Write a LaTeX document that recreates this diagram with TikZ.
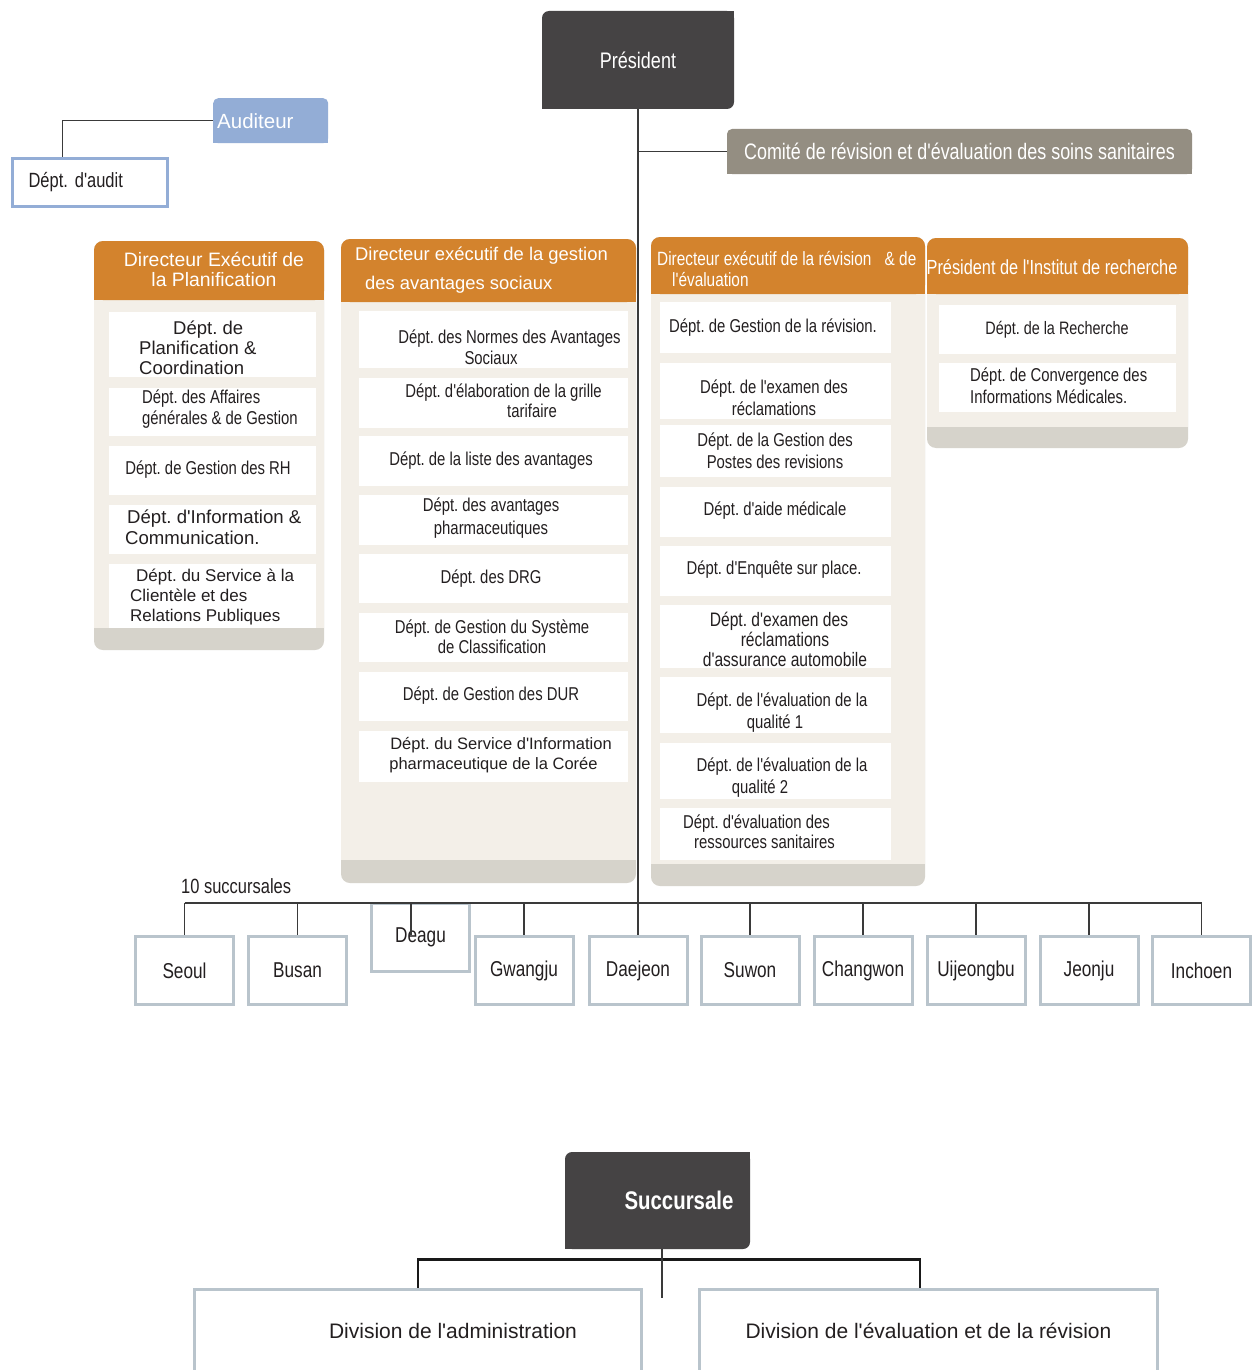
\documentclass[tikz,border=0pt]{standalone}
\usepackage{fontspec}
\setmainfont{Liberation Sans}
\newfontfamily\reg{Liberation Sans}
\newfontfamily\nar{Liberation Sans}[FakeStretch=0.8]
\usetikzlibrary{calc}
\frenchspacing

\definecolor{darkbox}{HTML}{454344}
\definecolor{audblue}{HTML}{93ADD6}
\definecolor{comgray}{HTML}{948E82}
\definecolor{hdorange}{HTML}{D3832D}
\definecolor{panelbody}{HTML}{F3EFE8}
\definecolor{panelfoot}{HTML}{D6D3CB}
\definecolor{branchedge}{HTML}{B9C4CC}
\definecolor{inktext}{HTML}{231F20}
\definecolor{wire}{HTML}{3A3A3A}

\newcommand\fsz[2]{\fontsize{#1}{#2}\selectfont}

% white department box: name, x1, y1, x2, y2
\newcommand\deptbox[5]{%
  \pgfmathsetmacro\dbXc{(#2+#4)/2}%
  \pgfmathsetmacro\dbYc{(#3+#5)/2}%
  \pgfmathsetmacro\dbW{#4-#2}%
  \pgfmathsetmacro\dbH{#5-#3}%
  \node[deptbg, minimum width=\dbW pt, minimum height=\dbH pt] (#1) at (\dbXc,\dbYc) {};}

% column panel: x1, x2, top, header bottom, footer top, bottom
\newcommand\panel[6]{%
  \fill[panelfoot, rounded corners=9pt] (#1,#3) rectangle (#2,#6);
  \fill[panelbody] (#1,#4) rectangle (#2,#5);
  \fill[hdorange, rounded corners=9pt] (#1,#3) rectangle (#2,#4);
  \fill[hdorange] (#1,#4-14) rectangle (#2,#4);}

\tikzset{
  conn/.style={draw=wire, line width=1.2pt},
  thickbus/.style={draw=black!90, line width=2.4pt},
  deptbg/.style={fill=white, inner sep=0pt},
  dtxt/.style={text=inktext, inner sep=0pt, align=center},
  hdtxt/.style={text=white, inner sep=0pt},
  darkhead/.style={fill=darkbox, rounded corners=7pt, text=white, inner sep=0pt},
  branch/.style={draw=branchedge, line width=3pt, fill=white, minimum width=98pt,
    minimum height=68pt, inner sep=0pt, text=inktext, font=\nar\fsz{21.5}{24}},
  divbox/.style={draw=branchedge, line width=3pt, fill=white, inner sep=0pt,
    text=inktext, font=\reg\fsz{21}{24}},
}

\begin{document}
\begin{tikzpicture}[x=1pt, y=-1pt]
\useasboundingbox (0,0) rectangle (1253,1370);
\fill[white] (0,0) rectangle (1253,1370);

% ---- top: president, auditor, committee
\node[darkhead, minimum width=192pt, minimum height=98pt, font=\nar\fsz{22.5}{24}] (pres) at (638,60) {Président};
\fill[darkbox] (pres.north east) rectangle ([xshift=-9pt,yshift=-9pt]pres.north east);
\fill[darkbox] (pres.south west) rectangle ([xshift=9pt,yshift=9pt]pres.south west);

\node[fill=audblue, rounded corners=5pt, anchor=north west, minimum height=45pt,
  inner xsep=4pt, inner ysep=0pt, text width=107pt, align=left, text=white,
  font=\reg\fsz{20.5}{22}] (aud) at (213,98) {Auditeur};
\fill[audblue] (aud.south west) rectangle ([xshift=7pt,yshift=7pt]aud.south west);
\fill[audblue] (aud.south east) rectangle ([xshift=-7pt,yshift=7pt]aud.south east);

\node[draw=audblue, line width=3.2pt, fill=white, anchor=west, minimum height=48pt,
  inner xsep=16.5pt, inner ysep=0pt, text width=122pt, align=left, text=inktext,
  font=\nar\fsz{20.6}{22}] (audit) at (10.5,182.5) {Dépt. d'audit};

\draw[conn] (aud.west) -| ([xshift=-27pt]audit.north);

\node[fill=comgray, rounded corners=5pt, minimum width=465pt, minimum height=45pt,
  inner sep=0pt, text=white, font=\nar\fsz{22.4}{24}] (com) at (959.5,151.5)
  {Comité de révision et d'évaluation des soins sanitaires};
\fill[comgray] (com.south west) rectangle ([xshift=7pt,yshift=7pt]com.south west);
\fill[comgray] (com.south east) rectangle ([xshift=-7pt,yshift=7pt]com.south east);

% ---- column panels
\panel{94}{324}{241}{300}{628}{650}
\panel{341}{636}{239}{302}{860}{883}
\panel{651}{925}{237}{294}{864}{886}
\panel{927}{1188}{238}{294}{427}{448}

\node[hdtxt, align=center, font=\reg\fsz{19.4}{20}] (h1) at (214,269)
  {Directeur Exécutif de\\la Planification};
\node[hdtxt, anchor=west, align=left, font=\reg\fsz{18.4}{29}] (h2) at (355,270.5)
  {Directeur exécutif de la gestion\\\hspace*{10pt}des avantages sociaux};
\node[hdtxt, anchor=west, align=left, font=\nar\fsz{19.2}{21}] (h3) at (657,269.5)
  {Directeur exécutif de la révision\hspace{9pt} \& de\\\hspace*{15pt}l'évaluation};
\node[hdtxt, font=\nar\fsz{20.4}{22}] (h4) at (1052,267)
  {Président de l'Institut de recherche};

% ---- column 1
\deptbox{c1a}{109}{312}{316}{377}
\node[dtxt, anchor=west, align=left, font=\reg\fsz{18.5}{20}] (c1a-t) at (139,348)
  {\hspace*{34pt}Dépt. de\\Planification \&\\Coordination};
\deptbox{c1b}{109}{388}{316}{436}
\node[dtxt, anchor=west, align=left, font=\nar\fsz{18.6}{21}] (c1b-t) at (142,409.5)
  {Dépt. des Affaires\\générales \& de Gestion};
\deptbox{c1c}{109}{446}{316}{495}
\node[dtxt, font=\nar\fsz{18.6}{21}] (c1c-t) at (208,470) {Dépt. de Gestion des RH};
\deptbox{c1d}{109}{505}{316}{554}
\node[dtxt, anchor=west, align=left, font=\reg\fsz{18.6}{21}] (c1d-t) at (125,527.5)
  {\hspace*{2pt}Dépt. d'Information \&\\Communication.};
\deptbox{c1e}{109}{564}{316}{628}
\node[dtxt, anchor=west, align=left, font=\reg\fsz{17}{20}] (c1e-t) at (130,597)
  {\hspace*{6pt}Dépt. du Service à la\\Clientèle et des\\Relations Publiques};

% ---- column 2
\deptbox{c2a}{359}{311}{628}{368}
\node[dtxt, font=\nar\fsz{18.6}{21}] (c2a-t) at (509.5,347.5)
  {Dépt. des Normes des Avantages\\Sociaux\hspace{37pt}\mbox{}};
\deptbox{c2b}{359}{378}{628}{428}
\node[dtxt, font=\nar\fsz{18.6}{20}] (c2b-t) at (503.5,401)
  {Dépt. d'élaboration de la grille\\\hspace*{57pt}tarifaire};
\deptbox{c2c}{359}{436}{628}{486}
\node[dtxt, font=\nar\fsz{18.6}{21}] (c2c-t) at (491,461) {Dépt. de la liste des avantages};
\deptbox{c2d}{359}{495}{628}{545}
\node[dtxt, font=\nar\fsz{18.6}{23}] (c2d-t) at (491,518.5) {Dépt. des avantages\\pharmaceutiques};
\deptbox{c2e}{359}{554}{628}{603}
\node[dtxt, font=\nar\fsz{18.6}{21}] (c2e-t) at (491,579) {Dépt. des DRG};
\deptbox{c2f}{359}{613}{628}{662}
\node[dtxt, font=\nar\fsz{18.6}{20}] (c2f-t) at (492,637) {Dépt. de Gestion du Système\\de Classification};
\deptbox{c2g}{359}{672}{628}{721}
\node[dtxt, font=\nar\fsz{18.6}{21}] (c2g-t) at (491,696) {Dépt. de Gestion des DUR};
\deptbox{c2h}{359}{731}{628}{782}
\node[dtxt, font=\reg\fsz{16.5}{20}] (c2h-t) at (501,755)
  {Dépt. du Service d'Information\\pharmaceutique de la Corée\hspace{15pt}\mbox{}};

% ---- column 3
\deptbox{c3a}{660}{302}{891}{353}
\node[dtxt, font=\nar\fsz{18.6}{21}] (c3a-t) at (773,328) {Dépt. de Gestion de la révision.};
\deptbox{c3b}{660}{363}{891}{419}
\node[dtxt, font=\nar\fsz{18.6}{22}] (c3b-t) at (774,398) {Dépt. de l'examen des\\réclamations};
\deptbox{c3c}{660}{425}{891}{477}
\node[dtxt, font=\nar\fsz{18.6}{22}] (c3c-t) at (775,451) {Dépt. de la Gestion des\\Postes des revisions};
\deptbox{c3d}{660}{487}{891}{537}
\node[dtxt, font=\nar\fsz{18.6}{21}] (c3d-t) at (775,511) {Dépt. d'aide médicale};
\deptbox{c3e}{660}{546}{891}{596}
\node[dtxt, font=\nar\fsz{18.6}{21}] (c3e-t) at (774,570) {Dépt. d'Enquête sur place.};
\deptbox{c3f}{660}{605}{891}{668}
\node[dtxt, font=\nar\fsz{19.5}{20}] (c3f-t) at (785,639)
  {Dépt. d'examen des\hspace{12pt}\mbox{}\\réclamations\\d'assurance automobile};
\deptbox{c3g}{660}{677}{891}{733}
\node[dtxt, font=\nar\fsz{18.6}{22}] (c3g-t) at (782,713)
  {Dépt. de l'évaluation de la\\qualité 1\hspace{14pt}\mbox{}};
\deptbox{c3h}{660}{743}{891}{799}
\node[dtxt, font=\nar\fsz{18.6}{22}] (c3h-t) at (782,778)
  {Dépt. de l'évaluation de la\\qualité 2\hspace{44pt}\mbox{}};
\deptbox{c3i}{660}{808}{891}{860}
\node[dtxt, font=\nar\fsz{18.6}{20}] (c3i-t) at (764.5,832)
  {Dépt. d'évaluation des\hspace{16pt}\mbox{}\\ressources sanitaires};

% ---- column 4
\deptbox{c4a}{939}{305}{1176}{354}
\node[dtxt, font=\nar\fsz{18}{21}] (c4a-t) at (1057,330) {Dépt. de la Recherche};
\deptbox{c4b}{939}{363}{1176}{412}
\node[dtxt, anchor=west, align=left, font=\nar\fsz{18.6}{22}] (c4b-t) at (970,386)
  {Dépt. de Convergence des\\Informations Médicales.};

% ---- branches
\node[anchor=west, inner sep=0pt, text=inktext, font=\nar\fsz{20.6}{22}] (nsucc) at (181,886) {10 succursales};
\coordinate (bus) at (638,903);
\node[branch] (seoul) at (184.5,970.5) {Seoul};
\node[branch] (busan) at (297.5,970.5) {Busan};
\node[branch] (deagu) at (420.5,937.5) {Deagu};
\node[branch] (gwangju) at (524,970.5) {Gwangju};
\node[branch] (daejeon) at (638,970.5) {Daejeon};
\node[branch] (suwon) at (750,970.5) {Suwon};
\node[branch] (changwon) at (863,970.5) {Changwon};
\node[branch] (uijeongbu) at (976,970.5) {Uijeongbu};
\node[branch] (jeonju) at (1089,970.5) {Jeonju};
\node[branch] (inchoen) at (1201.5,970.5) {Inchoen};

\draw[conn] (pres.south) -- (daejeon.north);
\draw[conn] (pres.south |- com.west) -- (com.west);
\draw[conn] (seoul.north |- bus) -- (inchoen.north |- bus);
\foreach \b in {seoul,busan,gwangju,suwon,changwon,uijeongbu,jeonju,inchoen}
  \draw[conn] (\b.north |- bus) -- (\b.north);
\coordinate (dgdrop) at (411,935);
\draw[conn] (dgdrop |- bus) -- (dgdrop);

% ---- branch office structure
\node[darkhead, minimum width=185pt, minimum height=97pt, font=\nar\bfseries\fsz{25.5}{27}] (succ) at (657.5,1200.5)
  {\hspace*{43pt}Succursale};
\fill[darkbox] (succ.north east) rectangle ([xshift=-9pt,yshift=-9pt]succ.north east);
\fill[darkbox] (succ.south west) rectangle ([xshift=9pt,yshift=9pt]succ.south west);

\node[divbox, minimum width=447pt, minimum height=84pt] (divA) at (418,1331)
  {\hspace*{70pt}Division de l'administration};
\node[divbox, minimum width=458pt, minimum height=84pt] (divB) at (928.5,1331)
  {Division de l'évaluation et de la révision};

\draw[thickbus] (divA.north) -- ++(0,-28) -| ([xshift=-8.5pt]divB.north);
\coordinate (sdrop) at (662,1298);
\draw[conn] (succ.south -| sdrop) -- (sdrop);
\end{tikzpicture}
\end{document}
